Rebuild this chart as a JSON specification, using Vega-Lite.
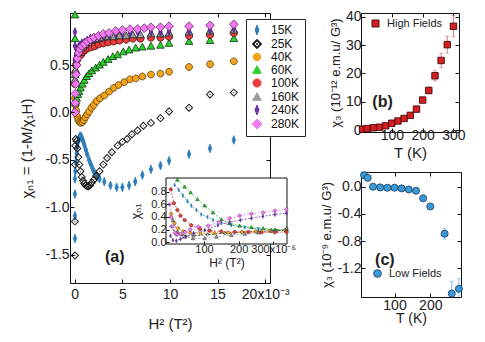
{
"$schema":"https://vega.github.io/schema/vega-lite/v6.json",
"autosize":{"type":"pad"},
"padding":{"left":19,"top":8,"right":0,"bottom":0},
"background":"white",
"datasets":{
"main":[
{"s":"15K","x":0.02,"v":-1.33},{"s":"15K","x":0.02,"v":-1.09},{"s":"15K","x":0.02,"v":-0.86},{"s":"15K","x":0.02,"v":-0.7},{"s":"15K","x":0.06,"v":-0.62},{"s":"15K","x":0.12,"v":-0.52},{"s":"15K","x":0.2,"v":-0.43},{"s":"15K","x":0.28,"v":-0.36},{"s":"15K","x":0.36,"v":-0.31},{"s":"15K","x":0.45,"v":-0.27},{"s":"15K","x":0.55,"v":-0.25},{"s":"15K","x":0.65,"v":-0.25},{"s":"15K","x":0.75,"v":-0.27},{"s":"15K","x":0.87,"v":-0.3},{"s":"15K","x":1.0,"v":-0.34},{"s":"15K","x":1.15,"v":-0.39},{"s":"15K","x":1.3,"v":-0.44},{"s":"15K","x":1.5,"v":-0.5},{"s":"15K","x":1.7,"v":-0.55},{"s":"15K","x":1.9,"v":-0.6},{"s":"15K","x":2.1,"v":-0.64},{"s":"15K","x":2.35,"v":-0.68},{"s":"15K","x":2.6,"v":-0.7},{"s":"15K","x":3.1,"v":-0.73},{"s":"15K","x":3.75,"v":-0.77},{"s":"15K","x":4.4,"v":-0.79},{"s":"15K","x":5.0,"v":-0.79},{"s":"15K","x":5.7,"v":-0.77},{"s":"15K","x":6.35,"v":-0.73},{"s":"15K","x":7.1,"v":-0.66},{"s":"15K","x":8.0,"v":-0.6},{"s":"15K","x":9.0,"v":-0.56},{"s":"15K","x":9.9,"v":-0.51},{"s":"15K","x":12.0,"v":-0.44},{"s":"15K","x":14.2,"v":-0.38},{"s":"15K","x":16.7,"v":-0.29},
{"s":"25K","x":0.02,"v":-1.51},{"s":"25K","x":0.02,"v":-1.15},{"s":"25K","x":0.02,"v":-0.55},{"s":"25K","x":0.05,"v":-0.35},{"s":"25K","x":0.1,"v":-0.28},{"s":"25K","x":0.18,"v":-0.3},{"s":"25K","x":0.27,"v":-0.38},{"s":"25K","x":0.37,"v":-0.47},{"s":"25K","x":0.48,"v":-0.55},{"s":"25K","x":0.6,"v":-0.62},{"s":"25K","x":0.73,"v":-0.68},{"s":"25K","x":0.87,"v":-0.72},{"s":"25K","x":1.0,"v":-0.75},{"s":"25K","x":1.15,"v":-0.77},{"s":"25K","x":1.3,"v":-0.78},{"s":"25K","x":1.45,"v":-0.78},{"s":"25K","x":1.6,"v":-0.77},{"s":"25K","x":1.8,"v":-0.74},{"s":"25K","x":2.0,"v":-0.71},{"s":"25K","x":2.25,"v":-0.67},{"s":"25K","x":2.6,"v":-0.62},{"s":"25K","x":3.0,"v":-0.55},{"s":"25K","x":3.4,"v":-0.48},{"s":"25K","x":3.9,"v":-0.42},{"s":"25K","x":4.5,"v":-0.35},{"s":"25K","x":5.0,"v":-0.31},{"s":"25K","x":5.5,"v":-0.28},{"s":"25K","x":6.0,"v":-0.23},{"s":"25K","x":6.6,"v":-0.19},{"s":"25K","x":7.2,"v":-0.14},{"s":"25K","x":8.0,"v":-0.11},{"s":"25K","x":9.0,"v":-0.06},{"s":"25K","x":9.9,"v":0.01},{"s":"25K","x":12.0,"v":0.05},{"s":"25K","x":14.2,"v":0.19},{"s":"25K","x":16.7,"v":0.21},
{"s":"40K","x":0.03,"v":0.15},{"s":"40K","x":0.08,"v":0.08},{"s":"40K","x":0.15,"v":0.02},{"s":"40K","x":0.25,"v":-0.04},{"s":"40K","x":0.37,"v":-0.08},{"s":"40K","x":0.5,"v":-0.1},{"s":"40K","x":0.65,"v":-0.11},{"s":"40K","x":0.8,"v":-0.1},{"s":"40K","x":0.95,"v":-0.08},{"s":"40K","x":1.1,"v":-0.05},{"s":"40K","x":1.3,"v":-0.02},{"s":"40K","x":1.5,"v":0.01},{"s":"40K","x":1.75,"v":0.05},{"s":"40K","x":2.0,"v":0.08},{"s":"40K","x":2.3,"v":0.12},{"s":"40K","x":2.65,"v":0.15},{"s":"40K","x":3.1,"v":0.18},{"s":"40K","x":3.6,"v":0.22},{"s":"40K","x":4.1,"v":0.26},{"s":"40K","x":4.6,"v":0.29},{"s":"40K","x":5.2,"v":0.32},{"s":"40K","x":5.8,"v":0.35},{"s":"40K","x":6.4,"v":0.36},{"s":"40K","x":7.1,"v":0.38},{"s":"40K","x":8.0,"v":0.4},{"s":"40K","x":9.0,"v":0.41},{"s":"40K","x":9.9,"v":0.43},{"s":"40K","x":12.0,"v":0.48},{"s":"40K","x":14.2,"v":0.51},{"s":"40K","x":16.7,"v":0.54},
{"s":"60K","x":0.02,"v":1.03},{"s":"60K","x":0.03,"v":0.78},{"s":"60K","x":0.04,"v":0.4},{"s":"60K","x":0.05,"v":0.1},{"s":"60K","x":0.1,"v":0.12},{"s":"60K","x":0.2,"v":0.15},{"s":"60K","x":0.32,"v":0.19},{"s":"60K","x":0.45,"v":0.22},{"s":"60K","x":0.6,"v":0.26},{"s":"60K","x":0.8,"v":0.3},{"s":"60K","x":1.0,"v":0.34},{"s":"60K","x":1.25,"v":0.38},{"s":"60K","x":1.5,"v":0.41},{"s":"60K","x":1.8,"v":0.44},{"s":"60K","x":2.2,"v":0.47},{"s":"60K","x":2.6,"v":0.5},{"s":"60K","x":3.0,"v":0.53},{"s":"60K","x":3.5,"v":0.56},{"s":"60K","x":4.0,"v":0.59},{"s":"60K","x":4.5,"v":0.61},{"s":"60K","x":5.1,"v":0.64},{"s":"60K","x":5.7,"v":0.66},{"s":"60K","x":6.4,"v":0.68},{"s":"60K","x":7.1,"v":0.69},{"s":"60K","x":8.0,"v":0.7},{"s":"60K","x":9.0,"v":0.71},{"s":"60K","x":9.9,"v":0.73},{"s":"60K","x":12.0,"v":0.75},{"s":"60K","x":14.2,"v":0.76},{"s":"60K","x":16.7,"v":0.78},
{"s":"100K","x":0.03,"v":0.3},{"s":"100K","x":0.07,"v":0.42},{"s":"100K","x":0.13,"v":0.5},{"s":"100K","x":0.22,"v":0.55},{"s":"100K","x":0.33,"v":0.58},{"s":"100K","x":0.47,"v":0.6},{"s":"100K","x":0.65,"v":0.61},{"s":"100K","x":0.85,"v":0.64},{"s":"100K","x":1.1,"v":0.66},{"s":"100K","x":1.4,"v":0.68},{"s":"100K","x":1.75,"v":0.69},{"s":"100K","x":2.1,"v":0.7},{"s":"100K","x":2.5,"v":0.72},{"s":"100K","x":3.0,"v":0.73},{"s":"100K","x":3.5,"v":0.74},{"s":"100K","x":4.1,"v":0.75},{"s":"100K","x":4.7,"v":0.76},{"s":"100K","x":5.4,"v":0.77},{"s":"100K","x":6.1,"v":0.78},{"s":"100K","x":6.9,"v":0.78},{"s":"100K","x":8.0,"v":0.79},{"s":"100K","x":9.0,"v":0.79},{"s":"100K","x":9.9,"v":0.8},{"s":"100K","x":12.0,"v":0.81},{"s":"100K","x":14.2,"v":0.82},{"s":"100K","x":16.7,"v":0.84},
{"s":"160K","x":0.03,"v":0.35},{"s":"160K","x":0.07,"v":0.45},{"s":"160K","x":0.13,"v":0.53},{"s":"160K","x":0.22,"v":0.59},{"s":"160K","x":0.33,"v":0.63},{"s":"160K","x":0.47,"v":0.66},{"s":"160K","x":0.65,"v":0.68},{"s":"160K","x":0.85,"v":0.7},{"s":"160K","x":1.1,"v":0.72},{"s":"160K","x":1.4,"v":0.74},{"s":"160K","x":1.75,"v":0.76},{"s":"160K","x":2.1,"v":0.77},{"s":"160K","x":2.5,"v":0.78},{"s":"160K","x":3.0,"v":0.79},{"s":"160K","x":3.5,"v":0.8},{"s":"160K","x":4.1,"v":0.8},{"s":"160K","x":4.7,"v":0.81},{"s":"160K","x":5.4,"v":0.81},{"s":"160K","x":6.1,"v":0.82},{"s":"160K","x":6.9,"v":0.82},{"s":"160K","x":8.0,"v":0.83},{"s":"160K","x":9.0,"v":0.83},{"s":"160K","x":9.9,"v":0.84},{"s":"160K","x":12.0,"v":0.85},{"s":"160K","x":14.2,"v":0.86},{"s":"160K","x":16.7,"v":0.87},
{"s":"240K","x":0.02,"v":0.85},{"s":"240K","x":0.03,"v":0.7},{"s":"240K","x":0.05,"v":0.55},{"s":"240K","x":0.1,"v":0.58},{"s":"240K","x":0.18,"v":0.62},{"s":"240K","x":0.28,"v":0.66},{"s":"240K","x":0.4,"v":0.69},{"s":"240K","x":0.55,"v":0.71},{"s":"240K","x":0.75,"v":0.73},{"s":"240K","x":1.0,"v":0.74},{"s":"240K","x":1.3,"v":0.76},{"s":"240K","x":1.65,"v":0.78},{"s":"240K","x":2.0,"v":0.79},{"s":"240K","x":2.5,"v":0.8},{"s":"240K","x":3.0,"v":0.81},{"s":"240K","x":3.6,"v":0.82},{"s":"240K","x":4.3,"v":0.83},{"s":"240K","x":5.0,"v":0.84},{"s":"240K","x":5.8,"v":0.84},{"s":"240K","x":6.6,"v":0.85},{"s":"240K","x":8.0,"v":0.85},{"s":"240K","x":9.0,"v":0.85},{"s":"240K","x":9.9,"v":0.86},{"s":"240K","x":12.0,"v":0.86},{"s":"240K","x":14.2,"v":0.87},{"s":"240K","x":16.7,"v":0.89},
{"s":"280K","x":0.03,"v":0.0},{"s":"280K","x":0.05,"v":0.1},{"s":"280K","x":0.07,"v":0.2},{"s":"280K","x":0.1,"v":0.3},{"s":"280K","x":0.14,"v":0.4},{"s":"280K","x":0.2,"v":0.5},{"s":"280K","x":0.28,"v":0.57},{"s":"280K","x":0.4,"v":0.63},{"s":"280K","x":0.55,"v":0.67},{"s":"280K","x":0.75,"v":0.7},{"s":"280K","x":1.0,"v":0.72},{"s":"280K","x":1.3,"v":0.75},{"s":"280K","x":1.65,"v":0.77},{"s":"280K","x":2.0,"v":0.79},{"s":"280K","x":2.5,"v":0.81},{"s":"280K","x":3.0,"v":0.83},{"s":"280K","x":3.6,"v":0.84},{"s":"280K","x":4.3,"v":0.86},{"s":"280K","x":5.0,"v":0.87},{"s":"280K","x":5.8,"v":0.88},{"s":"280K","x":6.6,"v":0.88},{"s":"280K","x":7.3,"v":0.89},{"s":"280K","x":8.0,"v":0.9},{"s":"280K","x":9.0,"v":0.9},{"s":"280K","x":9.9,"v":0.91},{"s":"280K","x":12.0,"v":0.91},{"s":"280K","x":14.2,"v":0.92},{"s":"280K","x":16.7,"v":0.93}
],
"inset":[
{"s":"15K","h":15,"v":0.91},{"s":"15K","h":27,"v":0.83},{"s":"15K","h":39,"v":0.74},{"s":"15K","h":52,"v":0.65},{"s":"15K","h":63,"v":0.58},{"s":"15K","h":78,"v":0.51},{"s":"15K","h":92,"v":0.44},{"s":"15K","h":110,"v":0.4},{"s":"15K","h":126,"v":0.35},{"s":"15K","h":150,"v":0.31},{"s":"15K","h":179,"v":0.27},{"s":"15K","h":218,"v":0.235},{"s":"15K","h":257,"v":0.21},{"s":"15K","h":295,"v":0.19},{"s":"15K","h":339,"v":0.18},
{"s":"25K","h":5,"v":0.25},{"s":"25K","h":20,"v":0.12},{"s":"25K","h":40,"v":0.1},{"s":"25K","h":70,"v":0.1},{"s":"25K","h":110,"v":0.12},{"s":"25K","h":160,"v":0.14},{"s":"25K","h":210,"v":0.16},{"s":"25K","h":260,"v":0.17},{"s":"25K","h":310,"v":0.18},{"s":"25K","h":338,"v":0.19},
{"s":"40K","h":5,"v":0.45},{"s":"40K","h":15,"v":0.3},{"s":"40K","h":25,"v":0.22},{"s":"40K","h":40,"v":0.17},{"s":"40K","h":60,"v":0.15},{"s":"40K","h":90,"v":0.14},{"s":"40K","h":130,"v":0.14},{"s":"40K","h":170,"v":0.15},{"s":"40K","h":210,"v":0.16},{"s":"40K","h":250,"v":0.17},{"s":"40K","h":290,"v":0.18},{"s":"40K","h":335,"v":0.19},
{"s":"60K","h":23,"v":0.99},{"s":"60K","h":44,"v":0.88},{"s":"60K","h":61,"v":0.79},{"s":"60K","h":81,"v":0.68},{"s":"60K","h":102,"v":0.58},{"s":"60K","h":126,"v":0.47},{"s":"60K","h":150,"v":0.36},{"s":"60K","h":174,"v":0.3},{"s":"60K","h":203,"v":0.26},{"s":"60K","h":237,"v":0.235},{"s":"60K","h":271,"v":0.22},{"s":"60K","h":305,"v":0.2},{"s":"60K","h":338,"v":0.19},
{"s":"100K","h":4,"v":0.84},{"s":"100K","h":13,"v":0.62},{"s":"100K","h":23,"v":0.51},{"s":"100K","h":32,"v":0.42},{"s":"100K","h":44,"v":0.35},{"s":"100K","h":63,"v":0.27},{"s":"100K","h":88,"v":0.21},{"s":"100K","h":116,"v":0.18},{"s":"100K","h":150,"v":0.17},{"s":"100K","h":189,"v":0.16},{"s":"100K","h":228,"v":0.16},{"s":"100K","h":266,"v":0.155},{"s":"100K","h":305,"v":0.155},{"s":"100K","h":339,"v":0.16},
{"s":"160K","h":10,"v":0.35},{"s":"160K","h":23,"v":0.165},{"s":"160K","h":44,"v":0.085},{"s":"160K","h":68,"v":0.06},{"s":"160K","h":102,"v":0.06},{"s":"160K","h":136,"v":0.085},{"s":"160K","h":179,"v":0.11},{"s":"160K","h":218,"v":0.13},{"s":"160K","h":257,"v":0.15},{"s":"160K","h":295,"v":0.18},{"s":"160K","h":339,"v":0.22},
{"s":"240K","h":3,"v":0.1},{"s":"240K","h":10,"v":0.03},{"s":"240K","h":20,"v":0.02},{"s":"240K","h":32,"v":0.05},{"s":"240K","h":48,"v":0.09},{"s":"240K","h":70,"v":0.14},{"s":"240K","h":102,"v":0.19},{"s":"240K","h":140,"v":0.27},{"s":"240K","h":174,"v":0.32},{"s":"240K","h":205,"v":0.35},{"s":"240K","h":237,"v":0.38},{"s":"240K","h":270,"v":0.41},{"s":"240K","h":305,"v":0.44},{"s":"240K","h":338,"v":0.46},
{"s":"280K","h":1,"v":0.6},{"s":"280K","h":5,"v":0.4},{"s":"280K","h":10,"v":0.25},{"s":"280K","h":16,"v":0.15},{"s":"280K","h":22,"v":0.12},{"s":"280K","h":32,"v":0.13},{"s":"280K","h":45,"v":0.16},{"s":"280K","h":60,"v":0.2},{"s":"280K","h":83,"v":0.245},{"s":"280K","h":112,"v":0.26},{"s":"280K","h":145,"v":0.32},{"s":"280K","h":174,"v":0.38},{"s":"280K","h":203,"v":0.42},{"s":"280K","h":237,"v":0.45},{"s":"280K","h":271,"v":0.47},{"s":"280K","h":305,"v":0.5},{"s":"280K","h":338,"v":0.52}
],
"hi":[
{"k":"High Fields","T":5,"v":0.3,"e":0},{"k":"High Fields","T":20,"v":0.5,"e":0},{"k":"High Fields","T":40,"v":0.8,"e":0},{"k":"High Fields","T":60,"v":1.0,"e":0},{"k":"High Fields","T":80,"v":1.5,"e":0},{"k":"High Fields","T":100,"v":2.4,"e":0.2},{"k":"High Fields","T":120,"v":3.2,"e":0.2},{"k":"High Fields","T":140,"v":4.1,"e":0.3},{"k":"High Fields","T":160,"v":5.2,"e":0.3},{"k":"High Fields","T":180,"v":7.4,"e":0.4},{"k":"High Fields","T":200,"v":10.6,"e":0.5},{"k":"High Fields","T":220,"v":14.0,"e":1.2},{"k":"High Fields","T":240,"v":19.2,"e":1.8},{"k":"High Fields","T":260,"v":24.6,"e":2.5},{"k":"High Fields","T":280,"v":30.2,"e":3.0},{"k":"High Fields","T":300,"v":36.7,"e":3.8}
],
"lo":[
{"k":"Low Fields","T":15,"v":0.17,"e":0},{"k":"Low Fields","T":25,"v":0.13,"e":0},{"k":"Low Fields","T":40,"v":0.0,"e":0},{"k":"Low Fields","T":60,"v":-0.01,"e":0},{"k":"Low Fields","T":80,"v":-0.015,"e":0},{"k":"Low Fields","T":100,"v":-0.015,"e":0},{"k":"Low Fields","T":120,"v":-0.025,"e":0},{"k":"Low Fields","T":140,"v":-0.04,"e":0},{"k":"Low Fields","T":160,"v":-0.06,"e":0},{"k":"Low Fields","T":180,"v":-0.17,"e":0},{"k":"Low Fields","T":200,"v":-0.29,"e":0},{"k":"Low Fields","T":240,"v":-0.69,"e":0.08},{"k":"Low Fields","T":260,"v":-1.57,"e":0.18},{"k":"Low Fields","T":280,"v":-1.5,"e":0.15}
]
},
"hconcat":[
{
"width":200,"height":270,
"layer":[
{
"layer":[
{"data":{"name":"main"},
"mark":{"type":"point","filled":true,"size":64,"strokeWidth":0.8,"opacity":1},
"encoding":{
"x":{"field":"x","type":"quantitative","scale":{"domain":[-0.5,20.5],"nice":false,"zero":false},
"axis":{"orient":"bottom","values":[0,5,10,15,20],"labelExpr":"datum.value == 20 ? '20x10⁻³' : datum.label","title":"H² (T²)","titleFontSize":15,"labelFontSize":14,"tickSize":-4,"labelPadding":8,"titlePadding":15,"labelFlush":false,"zindex":1}},
"y":{"field":"v","type":"quantitative","scale":{"domain":[-1.8,1.05],"nice":false,"zero":false},
"axis":{"orient":"left","values":[-1.5,-1,-0.5,0,0.5],"labelExpr":"replace(format(datum.value,'.1f'),'−','-')","title":"χₙ₁ = (1-M/χ₁H)","titleFontSize":15,"labelFontSize":14,"tickSize":-4,"labelPadding":5,"titlePadding":10,"zindex":1}},
"color":{"field":"s","type":"nominal","scale":{"domain":["15K","25K","40K","60K","100K","160K","240K","280K"],"range":["#2b7cb8","#1a1a1a","#f5a31a","#2ad42a","#ec3c3c","#9c9c9c","#6b35a8","#f07af0"]},
"legend":{"orient":"none","legendX":176,"legendY":6,"title":null,"labelFontSize":12,"labelColor":"#111","symbolSize":80,"symbolStrokeWidth":1,"symbolStrokeColor":"#1a1a1a","padding":5,"rowPadding":0,"labelOffset":8,"strokeColor":"#222","fillColor":"white"}},
"shape":{"field":"s","type":"nominal","scale":{"domain":["15K","25K","40K","60K","100K","160K","240K","280K"],"range":["M0,-1.1L0.42,0L0,1.1L-0.42,0Z","M0,-1.05L1.05,0L0,1.05L-1.05,0Z M0,-0.7L-0.7,0L0,0.7L0.7,0Z M-0.12,-0.12L0.12,-0.12L0.12,0.12L-0.12,0.12Z","M0.85,0A0.85,0.85,0,1,1,-0.85,0A0.85,0.85,0,1,1,0.85,0Z","M0,-0.95L0.95,0.75L-0.95,0.75Z","M0.9,0A0.9,0.9,0,1,1,-0.9,0A0.9,0.9,0,1,1,0.9,0Z","M0,-0.95L0.95,0.75L-0.95,0.75Z","M0,-1.1L0.45,0L0,1.1L-0.45,0Z","M0,-1.1L1.1,0L0,1.1L-1.1,0Z"]},
"legend":{"orient":"none","legendX":176,"legendY":6,"title":null,"labelFontSize":12,"labelColor":"#111","symbolSize":80,"symbolStrokeWidth":1,"symbolStrokeColor":"#1a1a1a","padding":5,"rowPadding":0,"labelOffset":8,"strokeColor":"#222","fillColor":"white"}},
"stroke":{"field":"s","type":"nominal","scale":{"domain":["15K","25K","40K","60K","100K","160K","240K","280K"],"range":["#2b7cb8","rgba(0,0,0,0)","#5a4010","#113311","#401010","#222222","#4a2080","#6a2a6a"]},
"legend":{"orient":"none","legendX":176,"legendY":6,"title":null,"labelFontSize":12,"labelColor":"#111","symbolSize":80,"symbolStrokeWidth":1,"symbolStrokeColor":"#1a1a1a","padding":5,"rowPadding":0,"labelOffset":8,"strokeColor":"#222","fillColor":"white"}}
}},
{"data":{"name":"main"},
"mark":{"type":"point","opacity":0},
"encoding":{
"x":{"field":"x","type":"quantitative","axis":{"orient":"top","values":[0,5,10,15,20],"labels":false,"title":null,"tickSize":-4}},
"y":{"field":"v","type":"quantitative","axis":{"orient":"right","values":[-1.5,-1,-0.5,0,0.5],"labels":false,"title":null,"tickSize":-4}}
}},
{"data":{"values":[{}]},
"mark":{"type":"text","text":"(a)","fontSize":16,"fontWeight":"bold","color":"#222"},
"encoding":{"x":{"datum":4.2,"type":"quantitative","axis":null},"y":{"datum":-1.53,"type":"quantitative","axis":null}}}
],
"resolve":{"axis":{"x":"independent","y":"independent"}}
},
{
"layer":[
{"data":{"values":[{}]},
"mark":{"type":"rect","fill":"white","stroke":"#111","strokeWidth":1},
"encoding":{
"x":{"datum":-10,"type":"quantitative","scale":{"domain":[-10,340],"range":[96,217],"nice":false,"zero":false},
"axis":{"orient":"bottom","offset":-39,"values":[100,200,300],"labelExpr":"datum.value == 300 ? '300x10⁻⁶' : datum.label","title":"H² (T²)","titleFontSize":12,"labelFontSize":11,"tickSize":-3,"labelPadding":2,"titlePadding":3,"labelFlush":false,"zindex":2}},
"x2":{"datum":340},
"y":{"datum":-0.03,"type":"quantitative","scale":{"domain":[-0.03,1.02],"range":[231,165],"nice":false,"zero":false},
"axis":{"orient":"left","offset":-96,"values":[0,0.2,0.4,0.6,0.8],"format":".1f","title":"χₙ₁","titleFontSize":13,"labelFontSize":11,"tickSize":-3,"labelPadding":3,"titlePadding":8,"zindex":2}},
"y2":{"datum":1.02}
}},
{"data":{"name":"inset"},
"mark":{"type":"line","strokeWidth":0.8,"strokeDash":[2,1.5]},
"encoding":{
"x":{"field":"h","type":"quantitative"},
"y":{"field":"v","type":"quantitative"},
"color":{"field":"s","type":"nominal"}
}},
{"data":{"name":"inset"},
"mark":{"type":"point","filled":true,"size":14,"strokeWidth":0.5,"opacity":1},
"encoding":{
"x":{"field":"h","type":"quantitative"},
"y":{"field":"v","type":"quantitative"},
"color":{"field":"s","type":"nominal"},
"shape":{"field":"s","type":"nominal"},
"stroke":{"field":"s","type":"nominal"}
}}
]
}
],
"resolve":{"scale":{"x":"independent","y":"independent"}}
},
{
"vconcat":[
{
"width":98,"height":119,
"data":{"name":"hi"},
"layer":[
{"mark":{"type":"errorbar","color":"#d88080","ticks":{"size":4}},
"encoding":{"x":{"field":"T","type":"quantitative","axis":null},"y":{"field":"v","type":"quantitative","axis":null},"yError":{"field":"e"}}},
{"mark":{"type":"point","shape":"square","filled":true,"size":42,"stroke":"#330000","strokeWidth":0.8,"opacity":1},
"encoding":{
"x":{"field":"T","type":"quantitative","scale":{"domain":[0,318],"nice":false,"zero":false},"axis":{"orient":"bottom","values":[100,200,300],"title":"T (K)","titleFontSize":15,"labelFontSize":14,"tickSize":-4,"labelPadding":0,"titlePadding":3,"labelFlush":false}},
"y":{"field":"v","type":"quantitative","scale":{"domain":[-0.7,41.4],"nice":false,"zero":false},"axis":{"orient":"left","values":[0,10,20,30,40],"title":"χ₃ (10⁻¹² e.m.u/ G³)","titleFontSize":13,"labelFontSize":14,"tickSize":-4,"labelPadding":4,"titlePadding":3}},
"color":{"field":"k","type":"nominal","scale":{"range":["#d42020"]},"legend":{"orient":"none","legendX":9,"legendY":5,"title":null,"labelFontSize":11,"labelColor":"#222","symbolType":"square","symbolSize":50,"symbolStrokeColor":"#330000","symbolStrokeWidth":0.8,"padding":0,"labelOffset":6}}
}},
{"mark":{"type":"point","opacity":0},
"encoding":{
"x":{"field":"T","type":"quantitative","axis":{"orient":"top","values":[100,200,300],"labels":false,"title":null,"tickSize":-4}},
"y":{"field":"v","type":"quantitative","axis":{"orient":"right","values":[0,10,20,30,40],"labels":false,"title":null,"tickSize":-4}}
}},
{"data":{"values":[{}]},
"mark":{"type":"text","text":"(b)","fontSize":16,"fontWeight":"bold","color":"#222"},
"encoding":{"x":{"datum":70,"type":"quantitative","axis":null},"y":{"datum":9.9,"type":"quantitative","axis":null}}}
],
"resolve":{"axis":{"x":"independent","y":"independent"}}
},
{
"width":100,"height":125,
"data":{"name":"lo"},
"layer":[
{"mark":{"type":"errorbar","color":"#7fbfea","ticks":{"size":4},"clip":true},
"encoding":{"x":{"field":"T","type":"quantitative","axis":null},"y":{"field":"v","type":"quantitative","axis":null},"yError":{"field":"e"}}},
{"mark":{"type":"point","shape":"circle","filled":true,"size":50,"stroke":"#163a58","strokeWidth":0.8,"opacity":1},
"encoding":{
"x":{"field":"T","type":"quantitative","scale":{"domain":[6.4,285.8],"nice":false,"zero":false},"axis":{"orient":"bottom","values":[100,200],"title":"T (K)","titleFontSize":14,"labelFontSize":14,"tickSize":-4,"labelPadding":5,"titlePadding":-1,"labelFlush":false}},
"y":{"field":"v","type":"quantitative","scale":{"domain":[-1.62,0.216],"nice":false,"zero":false},"axis":{"orient":"left","values":[0,-0.4,-0.8,-1.2],"labelExpr":"replace(format(datum.value,'.1f'),'−','-')","title":"χ₃ (10⁻⁹ e.m.u/ G³)","titleFontSize":13,"labelFontSize":14,"tickSize":-4,"labelPadding":4,"titlePadding":3}},
"color":{"field":"k","type":"nominal","scale":{"range":["#3a9ad9"]},"legend":{"orient":"none","legendX":11,"legendY":96,"title":null,"labelFontSize":11,"labelColor":"#222","symbolType":"circle","symbolSize":60,"symbolStrokeColor":"#163a58","symbolStrokeWidth":0.8,"padding":0,"labelOffset":6}}
}},
{"mark":{"type":"point","opacity":0},
"encoding":{
"x":{"field":"T","type":"quantitative","axis":{"orient":"top","values":[100,200],"labels":false,"title":null,"tickSize":-4}},
"y":{"field":"v","type":"quantitative","axis":{"orient":"right","values":[0,-0.4,-0.8,-1.2],"labels":false,"title":null,"tickSize":-4}}
}},
{"data":{"values":[{}]},
"mark":{"type":"text","text":"(c)","fontSize":16,"fontWeight":"bold","color":"#222"},
"encoding":{"x":{"datum":73,"type":"quantitative","axis":null},"y":{"datum":-1.08,"type":"quantitative","axis":null}}}
],
"resolve":{"axis":{"x":"independent","y":"independent"}}
}
],
"spacing":40,
"bounds":"flush",
"resolve":{"scale":{"color":"independent"},"legend":{"color":"independent"}}
}
],
"spacing":91,
"bounds":"flush",
"resolve":{"scale":{"color":"independent","shape":"independent","stroke":"independent"},"legend":{"color":"independent","shape":"independent","stroke":"independent"}},
"config":{
"font":"Liberation Sans",
"view":{"stroke":"#111","strokeWidth":1},
"axis":{"grid":false,"domain":false,"tickColor":"#111","tickWidth":1,"labelColor":"#222","titleColor":"#222","labelFont":"Liberation Sans","titleFont":"Liberation Sans","titleFontWeight":"normal"},
"legend":{"labelFont":"Liberation Sans"},
"text":{"font":"Liberation Sans"}
}
}
